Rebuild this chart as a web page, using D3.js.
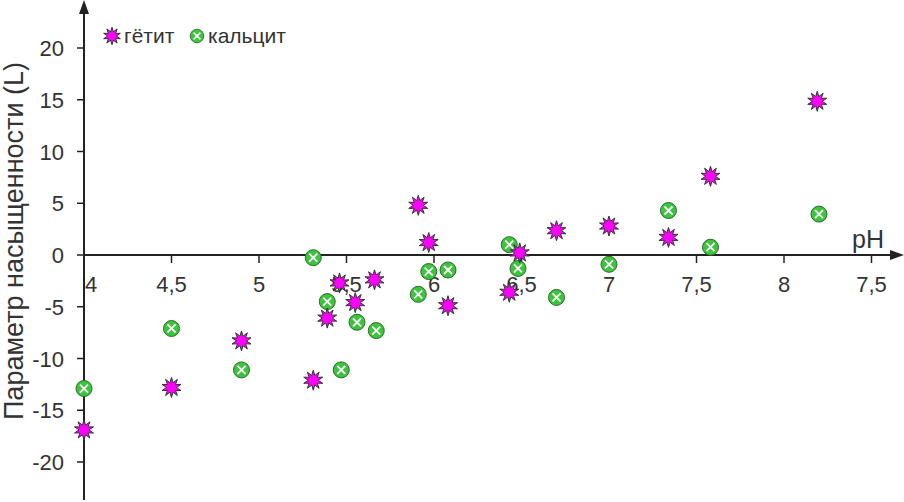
<!DOCTYPE html>
<html>
<head>
<meta charset="utf-8">
<script src="https://cdn.jsdelivr.net/npm/d3@7"></script>
<style>
  body { margin: 0; background: #fff; }
  text { font-family: "Liberation Sans", Arial, sans-serif; fill: #333; }
</style>
</head>
<body>
<div id="chart"></div>
<script>
// pH values shared by both minerals
const phValues = [4.0, 4.5, 4.9, 5.31, 5.39, 5.46, 5.55, 5.66, 5.91, 5.97, 6.08, 6.43, 6.49, 6.70, 7.0, 7.34, 7.58, 8.19];
const goethite = [-16.9, -12.8, -8.3, -12.1, -6.1, -2.7, -4.6, -2.4, 4.8, 1.2, -4.9, -3.6, 0.2, 2.35, 2.8, 1.7, 7.6, 14.85];
const calciteX = [4.0, 4.5, 4.9, 5.31, 5.39, 5.47, 5.56, 5.67, 5.91, 5.97, 6.08, 6.43, 6.48, 6.70, 7.0, 7.34, 7.58, 8.2];
const calcite = [-12.9, -7.1, -11.1, -0.26, -4.5, -11.1, -6.5, -7.3, -3.8, -1.6, -1.45, 1.0, -1.3, -4.1, -0.9, 4.3, 0.75, 3.95];

const xTicks = [4, 4.5, 5, 5.5, 6, 6.5, 7, 7.5, 8, 8.5];
const xTickLabels = ['4', '4,5', '5', '5,5', '6', '6,5', '7', '7,5', '8', '7,5'];
const yTicks = [20, 15, 10, 5, 0, -5, -10, -15, -20];

const width = 904, height = 502;
const axisColor = '#222';

const svg = d3.select('#chart').append('svg')
    .attr('width', width)
    .attr('height', height);

// scales: pH 4 sits on the vertical axis
const x = d3.scaleLinear().domain([4, 8]).range([84, 784]);
const y = d3.scaleLinear().domain([-20, 20]).range([462, 48]);

// 10-point star for goethite
const starSymbol = {
    draw(ctx, size) {
        const rOut = Math.sqrt(size) * 0.62, rIn = rOut * 0.5, n = 10;
        for (let i = 0; i < n * 2; i++) {
            const r = i % 2 === 0 ? rOut : rIn;
            const a = Math.PI * i / n - Math.PI / 2;
            if (i === 0) ctx.moveTo(r * Math.cos(a), r * Math.sin(a));
            else ctx.lineTo(r * Math.cos(a), r * Math.sin(a));
        }
        ctx.closePath();
    }
};
const star = d3.symbol().type(starSymbol).size(260);

// y axis with arrow
svg.append('line')
    .attr('x1', x(4)).attr('x2', x(4))
    .attr('y1', 8).attr('y2', 500)
    .attr('stroke', axisColor).attr('stroke-width', 2);
svg.append('path')
    .attr('d', `M${x(4)},0 L${x(4) - 5},14 L${x(4) + 5},14 Z`)
    .attr('fill', axisColor);

// x axis with arrow
svg.append('line')
    .attr('x1', x(4)).attr('x2', 896)
    .attr('y1', y(0)).attr('y2', y(0))
    .attr('stroke', axisColor).attr('stroke-width', 2);
svg.append('path')
    .attr('d', `M904,${y(0)} L890,${y(0) - 5} L890,${y(0) + 5} Z`)
    .attr('fill', axisColor);

// y ticks
const yt = svg.append('g');
yt.selectAll('line').data(yTicks).join('line')
    .attr('x1', x(4) - 7).attr('x2', x(4))
    .attr('y1', d => y(d)).attr('y2', d => y(d))
    .attr('stroke', axisColor).attr('stroke-width', 1.5);
yt.selectAll('text').data(yTicks).join('text')
    .attr('x', x(4) - 20)
    .attr('y', d => y(d) + 8)
    .attr('text-anchor', 'end')
    .attr('font-size', 22)
    .text(d => d);

// x ticks
const xt = svg.append('g');
xt.selectAll('line').data(xTicks.slice(1)).join('line')
    .attr('x1', d => x(d)).attr('x2', d => x(d))
    .attr('y1', y(0)).attr('y2', y(0) + 8)
    .attr('stroke', axisColor).attr('stroke-width', 1.5);
xt.selectAll('text').data(xTicks).join('text')
    .attr('x', (d, i) => i === 0 ? x(d) + 7 : x(d))
    .attr('y', y(0) + 37)
    .attr('text-anchor', 'middle')
    .attr('font-size', 22)
    .text((d, i) => xTickLabels[i]);

svg.append('text')
    .attr('x', 868).attr('y', 248)
    .attr('text-anchor', 'middle')
    .attr('font-size', 25)
    .text('pH');

// y axis title
svg.append('text')
    .attr('transform', `translate(23, 241) rotate(-90)`)
    .attr('text-anchor', 'middle')
    .attr('font-size', 27)
    .text('Параметр насыщенности (L)');

// calcite marker: green circle crossed with white
function drawCalcite(g) {
    g.append('circle').attr('r', 8)
        .attr('fill', '#3cc43c').attr('stroke', '#2d6b2d').attr('stroke-width', 1);
    g.append('path').attr('d', 'M-4,-4L4,4M-4,4L4,-4')
        .attr('stroke', '#fff').attr('stroke-width', 1.8);
}

const calcData = calciteX.map((d, i) => ({ x: d, y: calcite[i] }));
const goeData = phValues.map((d, i) => ({ x: d, y: goethite[i] }));

svg.append('g').selectAll('g').data(calcData).join('g')
    .attr('transform', d => `translate(${x(d.x)},${y(d.y)})`)
    .each(function() { drawCalcite(d3.select(this)); });

svg.append('g').selectAll('path').data(goeData).join('path')
    .attr('transform', d => `translate(${x(d.x)},${y(d.y)})`)
    .attr('d', star)
    .attr('fill', '#ff00ff')
    .attr('stroke', '#333')
    .attr('stroke-width', 1);

// legend
svg.append('path')
    .attr('transform', 'translate(112,36)')
    .attr('d', d3.symbol().type(starSymbol).size(200))
    .attr('fill', '#ff00ff').attr('stroke', '#333').attr('stroke-width', 1);
svg.append('text').attr('x', 124).attr('y', 43).attr('font-size', 21).text('гётит');
drawCalcite(svg.append('g').attr('transform', 'translate(197,36) scale(0.85)'));
svg.append('text').attr('x', 208).attr('y', 43).attr('font-size', 21).text('кальцит');
</script>
</body>
</html>
